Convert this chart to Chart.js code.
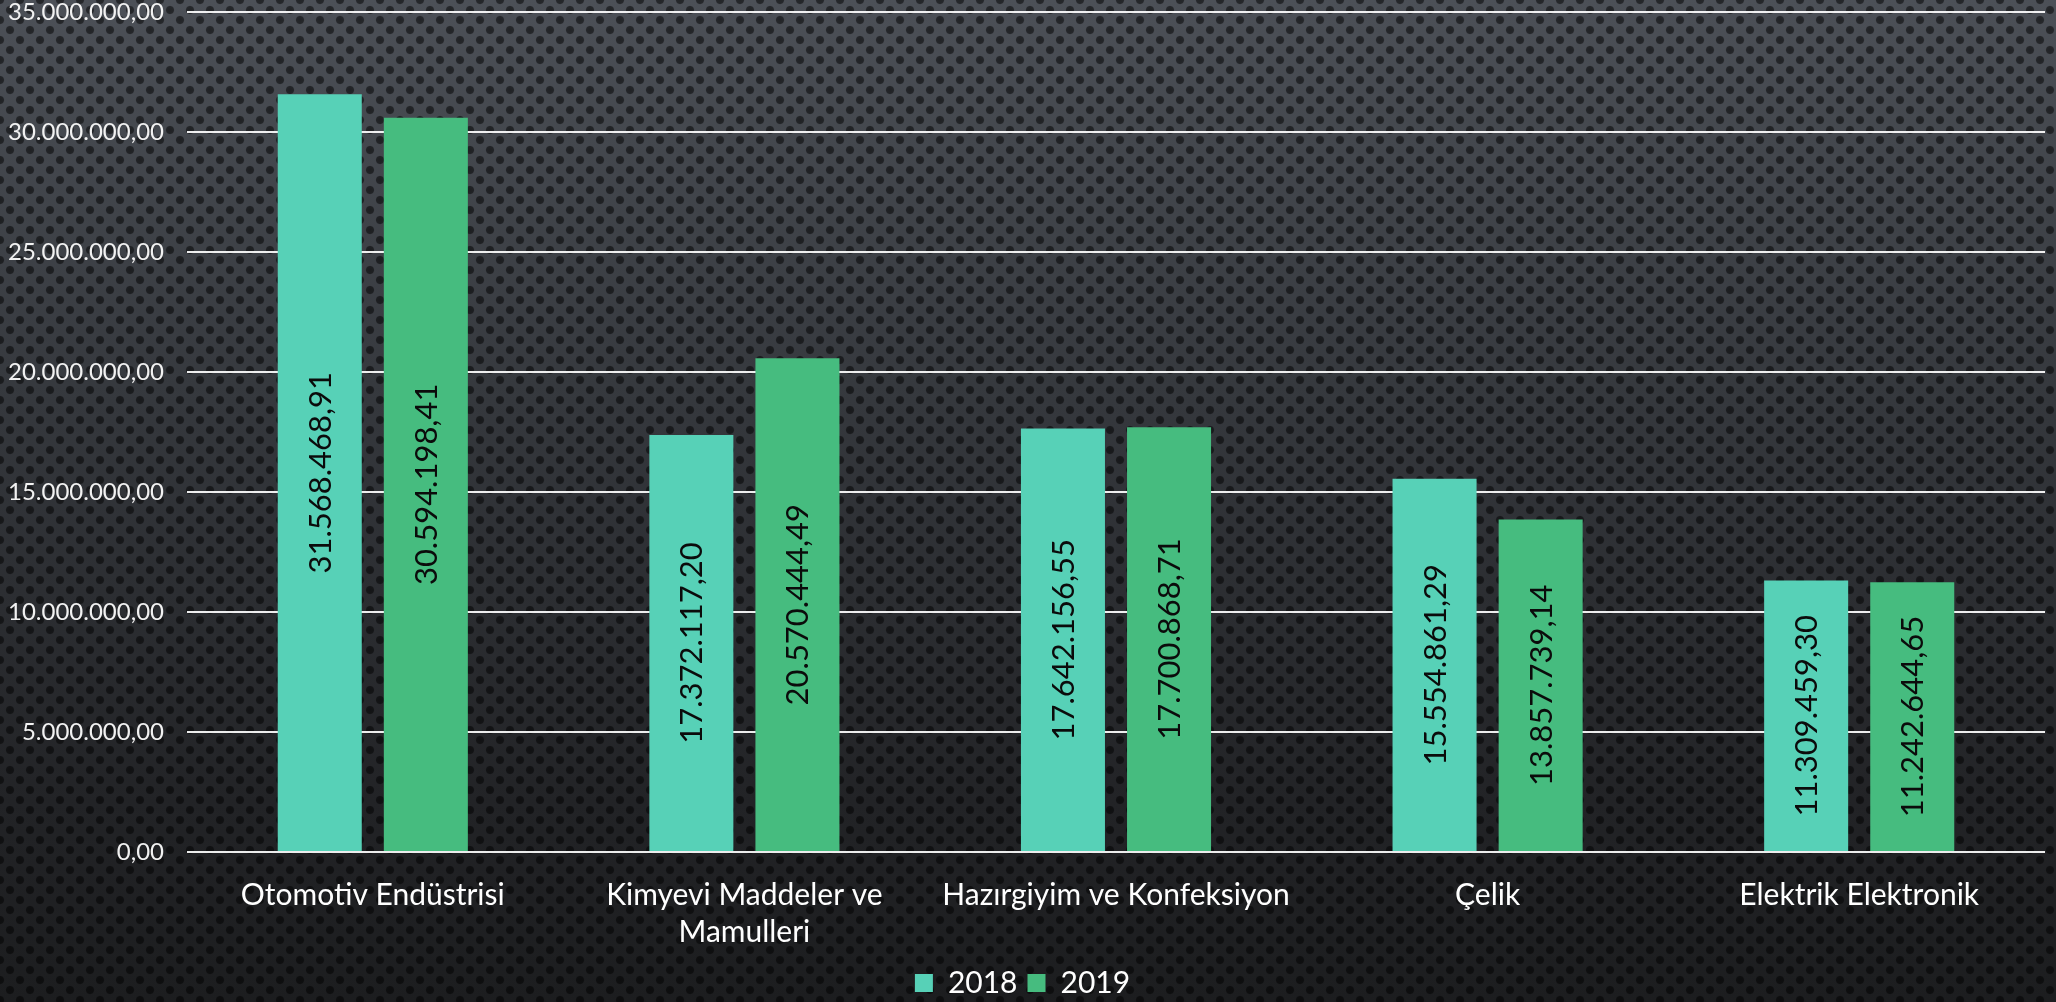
<!DOCTYPE html>
<html>
<head>
<meta charset="utf-8">
<script src="https://cdn.jsdelivr.net/npm/chart.js@4/dist/chart.umd.min.js"></script>
<style>
    html, body { margin: 0; padding: 0; }
    body {
        width: 2056px; height: 1002px; overflow: hidden;
        background-color: #2c2e32;
        background-image:
            radial-gradient(circle, rgba(0,0,0,0.55) 0, rgba(0,0,0,0.5) 3.5px, rgba(0,0,0,0) 4.6px),
            radial-gradient(circle, rgba(0,0,0,0.55) 0, rgba(0,0,0,0.5) 3.5px, rgba(0,0,0,0) 4.6px),
            linear-gradient(to bottom, #4c5057 0%, #35383d 40%, #222326 80%, #1c1d1f 100%);
        background-size: 20px 20px, 20px 20px, 100% 100%;
        background-position: 0 0, 10px 10px, 0 0;
    }
    #wrap { position: relative; width: 2056px; height: 1002px; }
</style>
</head>
<body>
<div id="wrap"><canvas id="exports"></canvas></div>
<script>
var categories = ['Otomotiv Endüstrisi', ['Kimyevi Maddeler ve', 'Mamulleri'], 'Hazırgiyim ve Konfeksiyon', 'Çelik', 'Elektrik Elektronik'];
var seriesNames = ['2018', '2019'];
var values2018 = [31568468.91, 17372117.20, 17642156.55, 15554861.29, 11309459.30];
var values2019 = [30594198.41, 20570444.49, 17700868.71, 13857739.14, 11242644.65];
var yTicks = [0, 5000000, 10000000, 15000000, 20000000, 25000000, 30000000, 35000000];

var FONT = 'Lato, "Open Sans", sans-serif';

// turkish number format: 31.568.468,91
function trNum(v){
    var parts = Number(v).toFixed(2).split('.');
    return parts[0].replace(/\B(?=(\d{3})+(?!\d))/g, '.') + ',' + parts[1];
}

// values written vertically in the middle of each bar
var barLabels = {
    id: 'barLabels',
    afterDatasetsDraw: function(chart){
        var ctx = chart.ctx;
        ctx.save();
        ctx.font = '31px ' + FONT;
        ctx.fillStyle = '#0b0b0b';
        ctx.textAlign = 'center';
        ctx.textBaseline = 'middle';
        chart.data.datasets.forEach(function(ds, i){
            chart.getDatasetMeta(i).data.forEach(function(bar, j){
                var cy = (bar.y + bar.base) / 2;
                ctx.save();
                ctx.translate(bar.x + 1, cy);
                ctx.rotate(-Math.PI / 2);
                ctx.fillText(trNum(ds.data[j]), 0, 0);
                ctx.restore();
            });
        });
        ctx.restore();
    }
};

new Chart(document.getElementById('exports'), {
    type: 'bar',
    data: {
        labels: categories,
        datasets: [
            {
                label: seriesNames[0],
                data: values2018,
                backgroundColor: '#57d1b7',
                categoryPercentage: 0.571,
                barPercentage: 0.792
            },
            {
                label: seriesNames[1],
                data: values2019,
                backgroundColor: '#46bc7f',
                categoryPercentage: 0.571,
                barPercentage: 0.792
            }
        ]
    },
    options: {
        responsive: true,
        maintainAspectRatio: false,
        animation: false,
        layout: { padding: { top: 12, right: 11, bottom: -6, left: 0 } },
        plugins: {
            tooltip: { enabled: false },
            legend: {
                position: 'bottom',
                labels: {
                    color: '#ffffff',
                    font: { family: FONT, size: 30 },
                    boxWidth: 18,
                    boxHeight: 18,
                    padding: 10
                }
            }
        },
        scales: {
            x: {
                grid: { display: false },
                border: { display: false },
                ticks: {
                    color: '#ffffff',
                    font: { family: FONT, size: 30, lineHeight: 1.23 },
                    padding: 17,
                    maxRotation: 0,
                    autoSkip: false
                },
                afterFit: function(scale){ scale.height = 106; }
            },
            y: {
                min: 0,
                max: 35000000,
                border: { display: false },
                grid: {
                    color: 'rgba(255,255,255,0.92)',
                    lineWidth: 2,
                    drawTicks: false
                },
                afterBuildTicks: function(scale){
                    scale.ticks = yTicks.map(function(v){ return { value: v }; });
                },
                ticks: {
                    color: '#f2f2f2',
                    font: { family: FONT, size: 24 },
                    padding: 23,
                    callback: function(v){ return trNum(v); }
                },
                afterFit: function(scale){
                    scale.width = 187;
                    scale.paddingTop = 0;
                    scale.paddingBottom = 0;
                }
            }
        }
    },
    plugins: [barLabels]
});
</script>
</body>
</html>
